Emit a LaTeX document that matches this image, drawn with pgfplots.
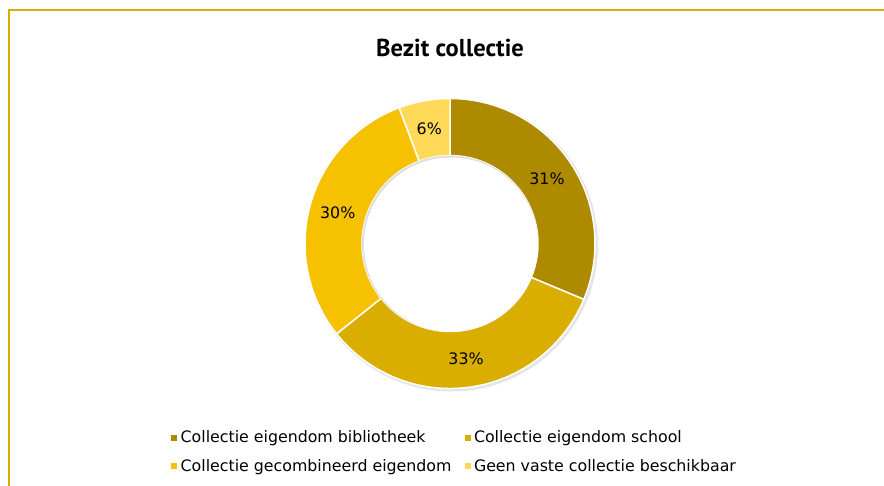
\documentclass[border=0pt]{standalone}
\usepackage{fontspec}
\setmainfont{DejaVu Sans}
\newfontfamily\titlefont{PT Sans}
\usepackage{pgfplots}
\usepackage{pgfplotstable}
\pgfplotsset{compat=1.18}

\definecolor{bib}{HTML}{AE8A00}
\definecolor{school}{HTML}{D9AE00}
\definecolor{combi}{HTML}{F5C100}
\definecolor{geen}{HTML}{FFD957}
\definecolor{frame}{HTML}{D9AE00}

% share (percent), printed label, colour
\pgfplotstableread{
share label colour
31.3 31 bib
33.0 33 school
30.0 30 combi
5.7 6 geen
}\shares

\pgfplotsset{squarelegend/.style={legend image code/.code={\fill[##1, draw=none] (0pt,-3pt) rectangle (6pt,3pt);}}}

\begin{document}
\begin{tikzpicture}
\begin{axis}[
  scale only axis,
  width=884pt, height=486pt,
  xmin=0, xmax=884, ymin=0, ymax=486,
  hide axis, clip=false,
  legend columns=2,
  legend style={at={(axis cs:171,34)}, anchor=west, draw=none, fill=none,
    inner sep=0pt, nodes={inner sep=0pt},
    font=\fontsize{15.8}{19}\selectfont, row sep=15pt,
    /tikz/every odd column/.append style={column sep=3.5pt},
    /tikz/every even column/.append style={column sep=13pt}},
  legend cell align=left,
  ]
\def\cx{450}\def\cy{242.5}\def\ro{145}\def\ri{88}
% frame lines
\draw[frame, line width=2pt] (axis cs:9,0) -- (axis cs:9,475.5) -- (axis cs:884,475.5);
% title
\node[font=\titlefont\bfseries\fontsize{24.5}{28}\selectfont] at (axis cs:450,438) {Bezit collectie};
% soft shadow behind the ring
\fill[black!10] (axis cs:451.5,241) circle[radius=146.5];
\def\a{90}
\pgfplotsforeachungrouped \i in {0,...,3}{%
  \pgfplotstablegetelem{\i}{share}\of\shares \let\v\pgfplotsretval
  \pgfplotstablegetelem{\i}{label}\of\shares \let\lab\pgfplotsretval
  \pgfplotstablegetelem{\i}{colour}\of\shares \let\col\pgfplotsretval
  \pgfmathsetmacro\b{\a-3.6*\v}
  \pgfmathsetmacro\m{(\a+\b)/2}
  \edef\slice{\noexpand\fill[\col, draw=white, line width=1.5pt]
    (axis cs:{\cx+\ro*cos(\a)},{\cy+\ro*sin(\a)}) arc[start angle=\a, end angle=\b, radius=\ro]
    -- (axis cs:{\cx+\ri*cos(\b)},{\cy+\ri*sin(\b)}) arc[start angle=\b, end angle=\a, radius=\ri] -- cycle;
    \noexpand\node[font=\noexpand\fontsize{15.8}{19}\noexpand\selectfont]
    at (axis cs:{\cx+116.5*cos(\m)},{\cy+116.5*sin(\m)}) {\lab\noexpand\%};}
  \slice
  \let\a\b
}
% inner shadow of the hole
\fill[black!12] (axis cs:\cx,\cy) circle[radius=\ri];
\fill[white] (axis cs:451,241.5) circle[radius=87];
\addlegendimage{squarelegend, fill=bib}
\addlegendentry{Collectie eigendom bibliotheek}
\addlegendimage{squarelegend, fill=school}
\addlegendentry{Collectie eigendom school}
\addlegendimage{squarelegend, fill=combi}
\addlegendentry{Collectie gecombineerd eigendom}
\addlegendimage{squarelegend, fill=geen}
\addlegendentry{Geen vaste collectie beschikbaar}
\end{axis}
\pgfresetboundingbox
\path[use as bounding box] (0,0) rectangle (884pt,486pt);
\end{tikzpicture}
\end{document}
